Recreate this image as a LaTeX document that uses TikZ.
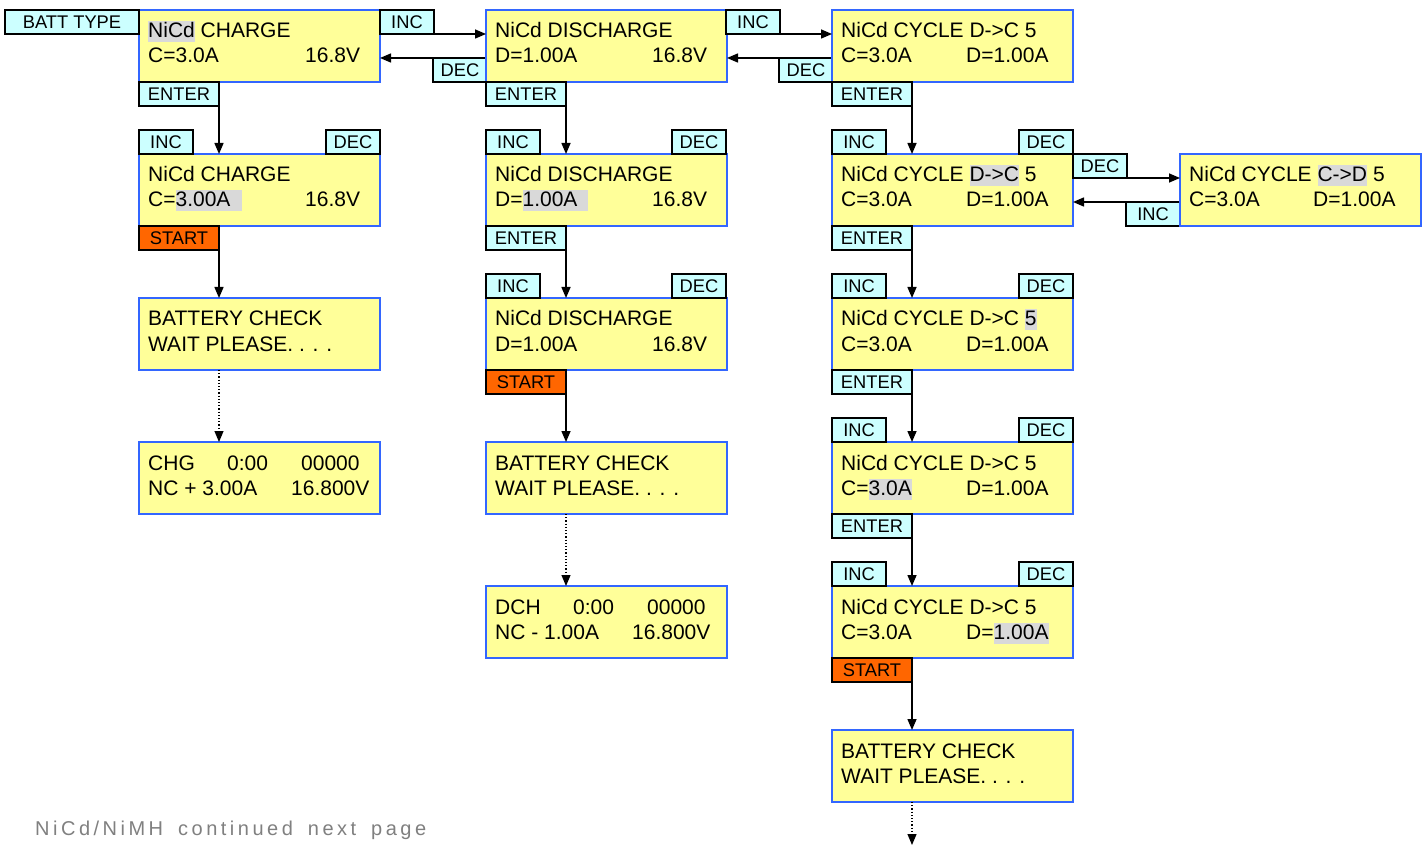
\documentclass[tikz,border=0pt]{standalone}
\usepackage{fontspec}
\setmainfont{Liberation Sans}
\usetikzlibrary{arrows.meta}
\definecolor{lcdfill}{HTML}{FFFF99}
\definecolor{lcdline}{HTML}{3366FF}
\definecolor{btnfill}{HTML}{CCFFFF}
\definecolor{startfill}{HTML}{FF6600}
\definecolor{hlgray}{HTML}{D9D9D9}
\definecolor{notegray}{HTML}{808080}
\newcommand\hl[1]{{\setlength\fboxsep{0pt}\colorbox{hlgray}{\vrule height 16.5pt depth 4.5pt width 0pt #1}}}
\newcommand\lcdbox[5]{%
  \node[lcd] (#1) at (#2,#3) {};
  \node[txt] (#1-l1) at (#2+9,#3+28) {#4};
  \node[txt] (#1-l2) at (#2+9,#3+53) {#5};}
\begin{document}
\begin{tikzpicture}[x=1pt,y=-1pt,
 lcd/.style={draw=lcdline, line width=1.8pt, fill=lcdfill, anchor=north west, minimum width=241pt, minimum height=72pt, inner sep=0pt, outer sep=0pt},
 txt/.style={anchor=base west, inner sep=0pt, font=\fontsize{21}{24}\selectfont},
 btn/.style={draw=black, line width=1.6pt, fill=btnfill, anchor=north west, minimum height=24pt, inner sep=0pt, outer sep=0pt, font=\fontsize{18.3}{20}\selectfont},
 btnS/.style={btn, minimum width=54pt},
 btnL/.style={btn, minimum width=80pt},
 startbtn/.style={btnL, fill=startfill},
 arr/.style={line width=1.5pt, -{Triangle[length=11pt,width=9pt]}},
 darr/.style={line width=1.2pt, dotted, -{Triangle[length=11pt,width=9pt]}}
]
\fill[white] (0,0) rectangle (1428,845);
\useasboundingbox (0,0) rectangle (1428,845);

% ---------- column 1 ----------
\lcdbox{a1}{139}{10}{\hl{NiCd} CHARGE}{C=3.0A}
\node[txt] (a1r) at (305,63) {16.8V};
\node[btn, minimum width=134pt] (batt) at (5,10) {BATT TYPE};
\node[btnS] (inc1) at (380,10) {INC};
\node[btnS] (dec1) at (433,58) {DEC};
\node[btnL] (ent1) at (139,82) {ENTER};
\lcdbox{b1}{139}{154}{NiCd CHARGE}{C=\hl{3.00A\hspace{11pt}}}
\node[txt] (b1r) at (305,207) {16.8V};
\node[btnS] (b1inc) at (139,130) {INC};
\node[btnS] (b1dec) at (326,130) {DEC};
\node[startbtn] (st1) at (139,226) {START};
\lcdbox{c1}{139}{298}{BATTERY CHECK}{WAIT PLEASE. . . .}
\lcdbox{d1}{139}{442}{CHG}{NC + 3.00A}
\node[txt] (d1a) at (227,470) {0:00};
\node[txt] (d1b) at (301,470) {00000};
\node[txt] (d1c) at (291,495) {16.800V};

% ---------- column 2 ----------
\lcdbox{a2}{486}{10}{NiCd DISCHARGE}{D=1.00A}
\node[txt] (a2r) at (652,63) {16.8V};
\node[btnS] (inc2) at (726,10) {INC};
\node[btnS] (dec2) at (779,58) {DEC};
\node[btnL] (ent2) at (486,82) {ENTER};
\lcdbox{b2}{486}{154}{NiCd DISCHARGE}{D=\hl{1.00A\hspace{10pt}}}
\node[txt] (b2r) at (652,207) {16.8V};
\node[btnS] (b2inc) at (486,130) {INC};
\node[btnS] (b2dec) at (672,130) {DEC};
\node[btnL] (ent2b) at (486,226) {ENTER};
\lcdbox{c2}{486}{298}{NiCd DISCHARGE}{D=1.00A}
\node[txt] (c2r) at (652,351) {16.8V};
\node[btnS] (c2inc) at (486,274) {INC};
\node[btnS] (c2dec) at (672,274) {DEC};
\node[startbtn] (st2) at (486,370) {START};
\lcdbox{d2}{486}{442}{BATTERY CHECK}{WAIT PLEASE. . . .}
\lcdbox{e2}{486}{586}{DCH}{NC - 1.00A}
\node[txt] (e2a) at (573,614) {0:00};
\node[txt] (e2b) at (647,614) {00000};
\node[txt] (e2c) at (632,639) {16.800V};

% ---------- column 3 ----------
\lcdbox{a3}{832}{10}{NiCd CYCLE D->C 5}{C=3.0A}
\node[txt] (a3r) at (966,63) {D=1.00A};
\node[btnL] (ent3) at (832,82) {ENTER};
\lcdbox{b3}{832}{154}{NiCd CYCLE \hl{D->C} 5}{C=3.0A}
\node[txt] (b3r) at (966,207) {D=1.00A};
\node[btnS] (b3inc) at (832,130) {INC};
\node[btnS] (b3dec) at (1019,130) {DEC};
\node[btnS] (b3decr) at (1073,154) {DEC};
\node[btnS] (b3incr) at (1126,202) {INC};
\lcdbox{b4}{1180}{154}{NiCd CYCLE \hl{C->D} 5}{C=3.0A}
\node[txt] (b4r) at (1313,207) {D=1.00A};
\node[btnL] (ent3b) at (832,226) {ENTER};
\lcdbox{c3}{832}{298}{NiCd CYCLE D->C \hl{5}}{C=3.0A}
\node[txt] (c3r) at (966,351) {D=1.00A};
\node[btnS] (c3inc) at (832,274) {INC};
\node[btnS] (c3dec) at (1019,274) {DEC};
\node[btnL] (ent3c) at (832,370) {ENTER};
\lcdbox{d3}{832}{442}{NiCd CYCLE D->C 5}{C=\hl{3.0A}}
\node[txt] (d3r) at (966,495) {D=1.00A};
\node[btnS] (d3inc) at (832,418) {INC};
\node[btnS] (d3dec) at (1019,418) {DEC};
\node[btnL] (ent3d) at (832,514) {ENTER};
\lcdbox{e3}{832}{586}{NiCd CYCLE D->C 5}{C=3.0A}
\node[txt] (e3r) at (966,639) {D=\hl{1.00A}};
\node[btnS] (e3inc) at (832,562) {INC};
\node[btnS] (e3dec) at (1019,562) {DEC};
\node[startbtn] (st3) at (832,658) {START};
\lcdbox{f3}{832}{730}{BATTERY CHECK}{WAIT PLEASE. . . .}
\coordinate (cont) at (912,845);

% ---------- note ----------
\node[anchor=base west, inner sep=0pt, text=notegray,
      font=\fontsize{20}{24}\selectfont\addfontfeature{LetterSpace=17.5}] (note) at (35,835) {NiCd/NiMH\hspace{15pt}continued\hspace{15pt}next\hspace{15pt}page};

% ---------- connectors ----------
\draw[arr] (inc1.south east) -- (inc1.south east -| a2.west);
\draw[arr] (dec1.north west) -- (dec1.north west -| a1.east);
\draw[arr] (inc2.south east) -- (inc2.south east -| a3.west);
\draw[arr] (dec2.north west) -- (dec2.north west -| a2.east);
\draw[arr] (ent1.south east) -- (ent1.south east |- b1.north);
\draw[arr] (st1.south east) -- (st1.south east |- c1.north);
\draw[darr] (c1.south -| st1.east) -- (d1.north -| st1.east);
\draw[arr] (ent2.south east) -- (ent2.south east |- b2.north);
\draw[arr] (ent2b.south east) -- (ent2b.south east |- c2.north);
\draw[arr] (st2.south east) -- (st2.south east |- d2.north);
\draw[darr] (d2.south -| st2.east) -- (e2.north -| st2.east);
\draw[arr] (ent3.south east) -- (ent3.south east |- b3.north);
\draw[arr] (b3decr.south east) -- (b3decr.south east -| b4.west);
\draw[arr] (b3incr.north west) -- (b3incr.north west -| b3.east);
\draw[arr] (ent3b.south east) -- (ent3b.south east |- c3.north);
\draw[arr] (ent3c.south east) -- (ent3c.south east |- d3.north);
\draw[arr] (ent3d.south east) -- (ent3d.south east |- e3.north);
\draw[arr] (st3.south east) -- (st3.south east |- f3.north);
\draw[darr] (f3.south -| st3.east) -- (cont);
\end{tikzpicture}
\end{document}
